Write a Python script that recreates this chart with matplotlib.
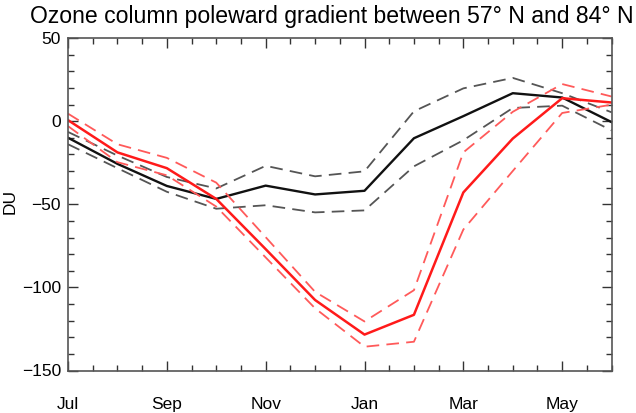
import matplotlib.pyplot as plt
from matplotlib.ticker import MultipleLocator, FixedLocator

plt.rcParams['font.family'] = ['Liberation Sans', 'DejaVu Sans']

# months Jul .. Jun
months = ["Jul", "Aug", "Sep", "Oct", "Nov", "Dec", "Jan", "Feb", "Mar", "Apr", "May", "Jun"]
tick_labels = ["Jul", "Sep", "Nov", "Jan", "Mar", "May"]

# black: reference run (mean and spread)
black_mean = [-10, -25.7, -39, -46.8, -38.8, -44.1, -41.9, -10.3, 3, 16.8, 14.2, -0.6]
black_hi = [-6.5, -20.7, -33.6, -40.5, -26.9, -33.2, -30.2, 5.9, 19.7, 26, 16.8, 5.3]
black_lo = [-13.9, -28.3, -42.5, -52.7, -50.6, -54.9, -53.7, -27.2, -11.5, 7.9, 9.3, -5.6]

# red: perturbed run (mean and spread)
red_mean = [0.6, -18.8, -28.3, -46.8, -77, -107.6, -128.4, -116.5, -42.9, -10.5, 13.8, 11.2]
red_hi = [4.5, -13.9, -22.1, -37, -69.8, -102.7, -120.5, -101.7, -18.8, 5.6, 22.3, 14.8]
red_lo = [-3, -24.7, -32.6, -51.4, -82, -112.6, -135.7, -132.7, -65.2, -30, 4.9, 9.9]

x = list(range(len(months)))

fig = plt.figure(figsize=(6.36, 4.13), dpi=100)
ax = fig.add_axes([68 / 636, 1 - 370.5 / 413, (611.6 - 68) / 636, (370.5 - 38) / 413])

dash = (0, (7, 4))
ax.plot(x, black_hi, color="#555555", lw=1.3, ls=dash)
ax.plot(x, black_lo, color="#555555", lw=1.3, ls=dash)
ax.plot(x, black_mean, color="#111111", lw=1.7)
ax.plot(x, red_hi, color="#ff5a5a", lw=1.3, ls=dash)
ax.plot(x, red_lo, color="#ff5a5a", lw=1.3, ls=dash)
ax.plot(x, red_mean, color="#ff1a1a", lw=1.8)

ax.set_xlim(0, 11)
ax.set_ylim(-150, 50)
ax.xaxis.set_major_locator(FixedLocator([0, 2, 4, 6, 8, 10]))
ax.set_xticklabels(tick_labels)
ax.xaxis.set_minor_locator(MultipleLocator(0.5))
ax.yaxis.set_major_locator(MultipleLocator(50))
ax.yaxis.set_minor_locator(MultipleLocator(10))

ax.tick_params(which="both", direction="in", top=True, right=True, labelsize=12.5, color="#333333")
ax.tick_params(which="major", length=7, width=1)
ax.tick_params(which="minor", length=4, width=1)
ax.tick_params(axis="x", which="major", pad=19)
ax.tick_params(axis="y", which="major", pad=5)
for s in ax.spines.values():
    s.set_color("#555555")
    s.set_linewidth(1.2)

ax.set_ylabel("DU", fontsize=12.5)
ax.yaxis.set_label_coords(-0.092, 0.507)

fig.text(30 / 636, 1 - 5 / 413, "Ozone column poleward gradient between 57° N and 84° N",
         fontsize=16.6, ha="left", va="top")

fig.savefig("out.png", dpi=100)
